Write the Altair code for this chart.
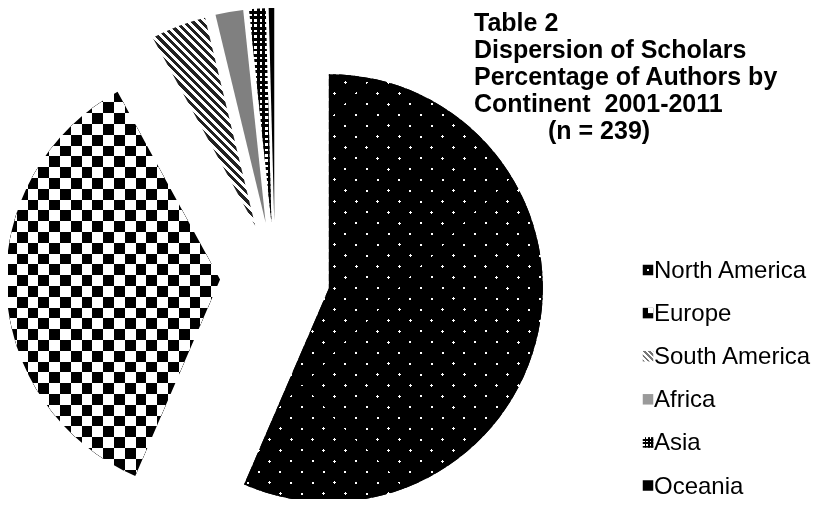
import math
import altair as alt
import pandas as pd

# ---------------- data ----------------
continents = ["North America", "Europe", "South America", "Africa", "Asia", "Oceania"]
authors = [135, 85, 10, 5, 3, 1]
title_lines = ["Table 2", "Dispersion of Scholars", "Percentage of Authors by", "Continent \u00a02001-2011"]
title_n = "(n = 239)"

df = pd.DataFrame({"continent": continents, "authors": authors,
                   "order": list(range(len(continents)))})

# ---------------- layout / style ----------------
W, H = 816, 491
CX, CY = 267, 269
R = 214
EXPLODE = 55
FONT = "Liberation Sans"


def arc_bbox(a0, a1, r):
    pts = [(0.0, 0.0), (r * math.sin(a0), -r * math.cos(a0)), (r * math.sin(a1), -r * math.cos(a1))]
    k = math.ceil(a0 / (math.pi / 2))
    while k * math.pi / 2 < a1:
        a = k * math.pi / 2
        pts.append((r * math.sin(a), -r * math.cos(a)))
        k += 1
    xs = [p[0] for p in pts]
    ys = [p[1] for p in pts]
    return max(xs) - min(xs), max(ys) - min(ys)


def stripes(w, h, phi_deg, period, duty, c_on, c_off):
    """Linear gradient (objectBoundingBox units) that draws hard stripes of a
    given pixel period whose normal points at phi_deg in screen space."""
    phi = math.radians(phi_deg)
    a = w * math.cos(phi)
    b = h * math.sin(phi)
    corners = [((0.0, 0.0), 0.0), ((1.0, 0.0), a), ((0.0, 1.0), b), ((1.0, 1.0), a + b)]
    q1, fmin = min(corners, key=lambda c: c[1])
    fmax = max(c[1] for c in corners)
    L = fmax - fmin
    g2 = a * a + b * b
    dx, dy = a * L / g2, b * L / g2
    stops = []
    k = 0
    while k * period < L:
        t0 = k * period / L
        t1 = min((k * period + duty * period) / L, 1.0)
        t2 = min((k + 1) * period / L, 1.0)
        stops += [{"offset": round(t0, 5), "color": c_on},
                  {"offset": round(t1, 5), "color": c_on},
                  {"offset": round(t1, 5), "color": c_off},
                  {"offset": round(t2, 5), "color": c_off}]
        k += 1
    return {"gradient": "linear", "x1": q1[0], "y1": q1[1],
            "x2": q1[0] + dx, "y2": q1[1] + dy, "stops": stops}


total = sum(authors)
cum = 0
bbox = {}
for c, a in zip(continents, authors):
    a0 = cum / total * 2 * math.pi
    cum += a
    a1 = cum / total * 2 * math.pi
    bbox[c] = arc_bbox(a0, a1, R)

# ---------------- pie ----------------
pie_base = (
    alt.Chart(df)
    .transform_window(cum="sum(authors)", sort=[alt.SortField("order", order="ascending")], frame=[None, 0])
    .transform_joinaggregate(total="sum(authors)")
    .transform_calculate(
        t0="(datum.cum - datum.authors) / datum.total * 2 * PI",
        t1="datum.cum / datum.total * 2 * PI",
    )
    .transform_calculate(mid="(datum.t0 + datum.t1) / 2")
    .transform_calculate(
        cx=f"{CX} + {EXPLODE} * sin(datum.mid)",
        cy=f"{CY} - {EXPLODE} * cos(datum.mid)",
    )
)


def pie_slice(name, fill, blend=None):
    kw = {"radius": R, "fill": fill}
    if blend:
        kw["blend"] = blend
    return pie_base.transform_filter(alt.datum.continent == name).mark_arc(**kw).encode(
        theta=alt.Theta("t0:Q", scale=None),
        theta2=alt.Theta2("t1:Q"),
        x=alt.X("cx:Q", scale=None, axis=None),
        y=alt.Y("cy:Q", scale=None, axis=None),
    )


w, h = bbox["North America"]
na_a = pie_slice("North America", stripes(w, h, 45, 15.3, 2.1 / 15.3, "white", "black"))
na_b = pie_slice("North America", stripes(w, h, -45, 15.3, 2.1 / 15.3, "white", "black"), "multiply")

w, h = bbox["Europe"]
eu_a = pie_slice("Europe", stripes(w, h, 0, 21.6, 0.5, "black", "white"))
eu_b = pie_slice("Europe", stripes(w, h, 90, 21.6, 0.5, "black", "white"), "difference")

w, h = bbox["South America"]
sa = pie_slice("South America", stripes(w, h, -45, 5.9, 0.5, "#222222", "white"))

af = pie_slice("Africa", "#808080")

w, h = bbox["Asia"]
as_a = pie_slice("Asia", stripes(w, h, 0, 5.4, 0.5, "white", "black"))
as_b = pie_slice("Asia", stripes(w, h, 90, 5.4, 0.5, "white", "black"), "multiply")

oc = pie_slice("Oceania", "black")

# ---------------- legend ----------------
SYM = 10.5
leg_y = alt.Y("continent:N", scale=alt.Scale(type="point", domain=continents, range=[262, 477.5], padding=0), axis=None)
leg_base = alt.Chart(df)


def leg_sym(name, fill, size=SYM * SYM, blend=None, xoff=0, yoff=0):
    kw = {"shape": "square", "size": size, "fill": fill, "filled": True, "opacity": 1}
    if blend:
        kw["blend"] = blend
    if xoff:
        kw["xOffset"] = xoff
    if yoff:
        kw["yOffset"] = yoff
    return leg_base.transform_filter(alt.datum.continent == name).mark_point(**kw).encode(
        x=alt.value(640), y=leg_y)


legend_layers = [
    leg_sym("North America", "black"),
    leg_sym("North America", "white", size=4),
    leg_sym("Europe", "black"),
    leg_sym("Europe", "white", size=(SYM / 2) ** 2, xoff=SYM / 4, yoff=-SYM / 4),
    leg_sym("South America", stripes(SYM, SYM, -45, 3.6, 0.5, "#777777", "white")),
    leg_sym("Africa", "#9a9a9a"),
    leg_sym("Asia", stripes(SYM, SYM, 0, 3.5, 0.5, "white", "black")),
    leg_sym("Asia", stripes(SYM, SYM, 90, 3.5, 0.5, "white", "black"), blend="multiply"),
    leg_sym("Oceania", "black"),
]

leg_text = leg_base.mark_text(align="left", baseline="alphabetic", dy=8, font=FONT, fontSize=24,
                              color="black").encode(
    x=alt.value(646), y=leg_y, text=alt.Text("continent:N"))

# ---------------- title ----------------
tdf = pd.DataFrame({"line": title_lines, "idx": list(range(len(title_lines)))})
ndf = pd.DataFrame({"line": [title_n], "idx": [len(title_lines)]})
ty = alt.Y("idx:O", scale=alt.Scale(type="point", domain=list(range(len(title_lines) + 1)),
                                    range=[23, 131], padding=0), axis=None)
title_txt = alt.Chart(tdf).mark_text(align="left", baseline="alphabetic", font=FONT, fontSize=25,
                                     fontWeight="bold", color="black").encode(
    x=alt.value(466), y=ty, text="line:N")
n_txt = alt.Chart(ndf).mark_text(align="left", baseline="alphabetic", font=FONT, fontSize=25,
                                 fontWeight="bold", color="black").encode(
    x=alt.value(540), y=ty, text="line:N")

chart = alt.layer(
    na_a, na_b, eu_a, eu_b, sa, af, as_a, as_b, oc,
    *legend_layers, leg_text, title_txt, n_txt
).resolve_scale(x="independent", y="independent").properties(
    width=W, height=H, padding=0, autosize=alt.AutoSizeParams(type="none"),
    background="white"
).configure_view(strokeWidth=0)

chart.save("out.html", embed_options={"renderer": "svg", "actions": False})
